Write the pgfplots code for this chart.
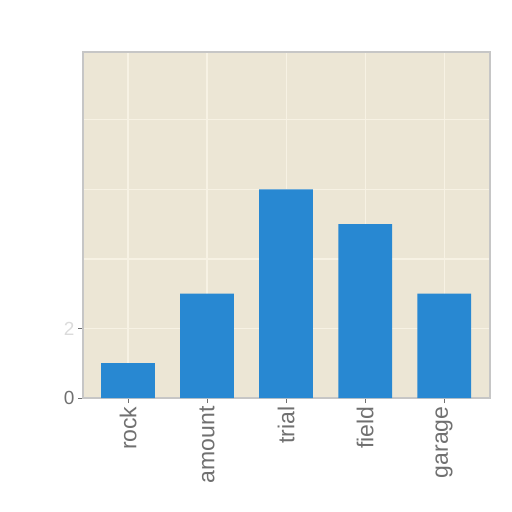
\documentclass[border=0pt]{standalone}
\usepackage{pgfplots}
\pgfplotsset{compat=1.18}
\usepackage{fontspec}
\setmainfont{Liberation Sans}
\definecolor{bgc}{HTML}{ECE6D5}
\definecolor{barc}{HTML}{2888D2}
\definecolor{gridc}{HTML}{F7F2E4}
\definecolor{txtc}{HTML}{707070}
\definecolor{framec}{HTML}{C6C6C6}
\begin{document}
\begin{tikzpicture}[x=1pt,y=1pt]
\path (0,0) rectangle (512,512);
\begin{axis}[
  at={(83pt,114pt)}, anchor=south west,
  scale only axis, width=407pt, height=346pt,
  xmin=-0.57, xmax=4.58, ymin=0, ymax=9.95,
  axis background/.style={fill=bgc},
  axis line style={framec, line width=1.2pt},
  grid=both, major grid style={gridc, line width=1.2pt},
  minor grid style={gridc, line width=1.2pt},
  xtick={0,1,2,3,4},
  xticklabels={rock,amount,trial,field,garage},
  ytick={0,2},
  yticklabels={0,\textcolor{txtc!25}{2}},
  minor ytick={4,6,8},
  minor tick length=0pt,
  tick align=outside, tick pos=left,
  major tick length=5pt,
  tick style={txtc, line width=0.8pt},
  x tick label style={rotate=90, anchor=east, font=\fontsize{23}{25}\selectfont, text=txtc},
  y tick label style={font=\fontsize{19}{21}\selectfont, text=txtc},
  ybar, bar width=0.68, bar shift=0pt,
]
\addplot[fill=barc, draw=none] coordinates {(0,1) (1,3) (2,6) (3,5) (4,3)};
\end{axis}
\end{tikzpicture}
\end{document}
